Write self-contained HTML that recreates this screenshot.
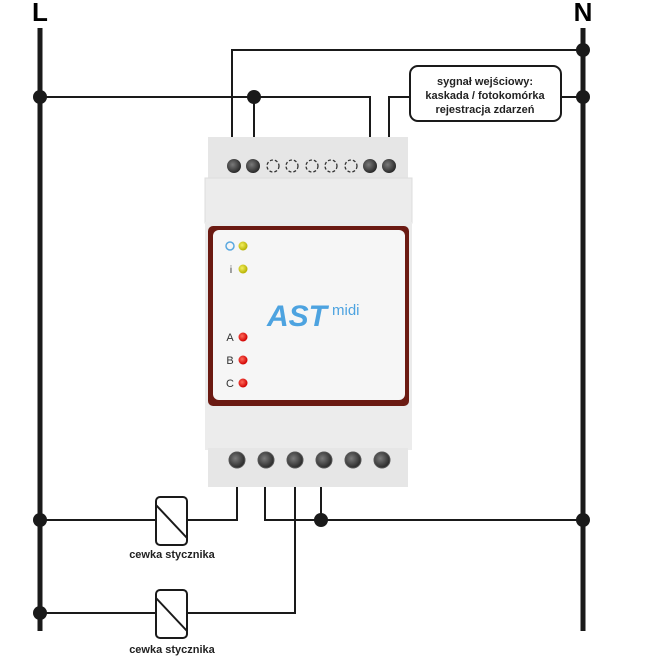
<!DOCTYPE html>
<html><head><meta charset="utf-8"><style>body{margin:0;background:#fff}svg{display:block}</style></head><body>
<svg width="647" height="672" xmlns="http://www.w3.org/2000/svg" font-family="Liberation Sans, sans-serif">
<defs>
<radialGradient id="scr" cx="0.4" cy="0.4" r="0.6"><stop offset="0" stop-color="#7a7a7a"/><stop offset="1" stop-color="#2a2a2a"/></radialGradient>
<radialGradient id="red" cx="0.4" cy="0.4" r="0.6"><stop offset="0" stop-color="#ff6a5a"/><stop offset="1" stop-color="#d00000"/></radialGradient>
<radialGradient id="yel" cx="0.4" cy="0.4" r="0.6"><stop offset="0" stop-color="#f4f060"/><stop offset="1" stop-color="#b5b000"/></radialGradient>
</defs>
<text x="40" y="21" font-size="26" font-weight="bold" text-anchor="middle">L</text>
<text x="583" y="21" font-size="26" font-weight="bold" text-anchor="middle">N</text>
<line x1="40" y1="28" x2="40" y2="631" stroke="#1a1a1a" stroke-width="5"/>
<line x1="583" y1="28" x2="583" y2="631" stroke="#1a1a1a" stroke-width="5"/>
<g stroke="#1a1a1a" stroke-width="2" fill="none">
<polyline points="232,138 232,50 583,50"/>
<polyline points="40,97 370,97 370,138"/>
<line x1="254" y1="97" x2="254" y2="138"/>
<polyline points="389,138 389,97 410,97"/>
<line x1="561" y1="97" x2="583" y2="97"/>
<rect x="410" y="66" width="151" height="55" rx="8"/>
<polyline points="237,487 237,520 187,520"/>
<line x1="40" y1="520" x2="156" y2="520"/>
<polyline points="265,487 265,520 583,520"/>
<line x1="321" y1="487" x2="321" y2="520"/>
<polyline points="295,487 295,613 187,613"/>
<line x1="40" y1="613" x2="156" y2="613"/>
<rect x="156" y="497" width="31" height="48" rx="4"/>
<line x1="156" y1="505" x2="187" y2="538"/>
<rect x="156" y="590" width="31" height="48" rx="4"/>
<line x1="156" y1="598" x2="187" y2="631"/>
</g>
<g fill="#1a1a1a">
<circle cx="583" cy="50" r="7"/><circle cx="40" cy="97" r="7"/><circle cx="254" cy="97" r="7"/><circle cx="583" cy="97" r="7"/>
<circle cx="40" cy="520" r="7"/><circle cx="321" cy="520" r="7"/><circle cx="583" cy="520" r="7"/><circle cx="40" cy="613" r="7"/>
</g>
<g font-size="11" font-weight="bold" text-anchor="middle" fill="#222">
<text x="485" y="85">sygnał wejściowy:</text>
<text x="485" y="99">kaskada / fotokomórka</text>
<text x="485" y="113">rejestracja zdarzeń</text>
<text x="172" y="558">cewka stycznika</text>
<text x="172" y="653">cewka stycznika</text>
</g>
<!-- device -->
<rect x="208" y="137" width="200" height="45" fill="#e6e6e6"/>
<rect x="205" y="178" width="207" height="45" fill="#ececec" stroke="#ddd"/>
<rect x="205" y="222" width="207" height="186" fill="#ebebeb"/>
<rect x="208" y="226" width="201" height="180" rx="5" fill="#6b1a12"/>
<rect x="213" y="230" width="192" height="170" rx="6" fill="#f6f6f6"/>
<rect x="205" y="408" width="207" height="42" fill="#ececec"/>
<rect x="208" y="448" width="200" height="39" fill="#e6e6e6"/>
<g>
<circle cx="234" cy="166" r="7" fill="url(#scr)"/><circle cx="253" cy="166" r="7" fill="url(#scr)"/>
<g fill="none" stroke="#333" stroke-width="1.3" stroke-dasharray="3 2">
<circle cx="273" cy="166" r="6"/><circle cx="292" cy="166" r="6"/><circle cx="312" cy="166" r="6"/><circle cx="331" cy="166" r="6"/><circle cx="351" cy="166" r="6"/></g>
<circle cx="370" cy="166" r="7" fill="url(#scr)"/><circle cx="389" cy="166" r="7" fill="url(#scr)"/>
</g>
<g fill="url(#scr)" stroke="#555" stroke-width="1">
<circle cx="237" cy="460" r="8"/><circle cx="266" cy="460" r="8"/><circle cx="295" cy="460" r="8"/><circle cx="324" cy="460" r="8"/><circle cx="353" cy="460" r="8"/><circle cx="382" cy="460" r="8"/>
</g>
<circle cx="230" cy="246" r="4" fill="none" stroke="#5aa8e0" stroke-width="1.5"/>
<circle cx="243" cy="246" r="4.5" fill="url(#yel)"/>
<text x="231" y="273" font-size="10" text-anchor="middle" fill="#333">i</text>
<circle cx="243" cy="269" r="4.5" fill="url(#yel)"/>
<g font-size="11" fill="#333" text-anchor="middle"><text x="230" y="341">A</text><text x="230" y="364">B</text><text x="230" y="387">C</text></g>
<circle cx="243" cy="337" r="4.5" fill="url(#red)"/><circle cx="243" cy="360" r="4.5" fill="url(#red)"/><circle cx="243" cy="383" r="4.5" fill="url(#red)"/>
<text x="267" y="326" font-size="30" font-weight="bold" font-style="italic" fill="#4da3e0">AST</text>
<text x="332" y="315" font-size="15" fill="#4da3e0">midi</text>
</svg>
</body></html>
